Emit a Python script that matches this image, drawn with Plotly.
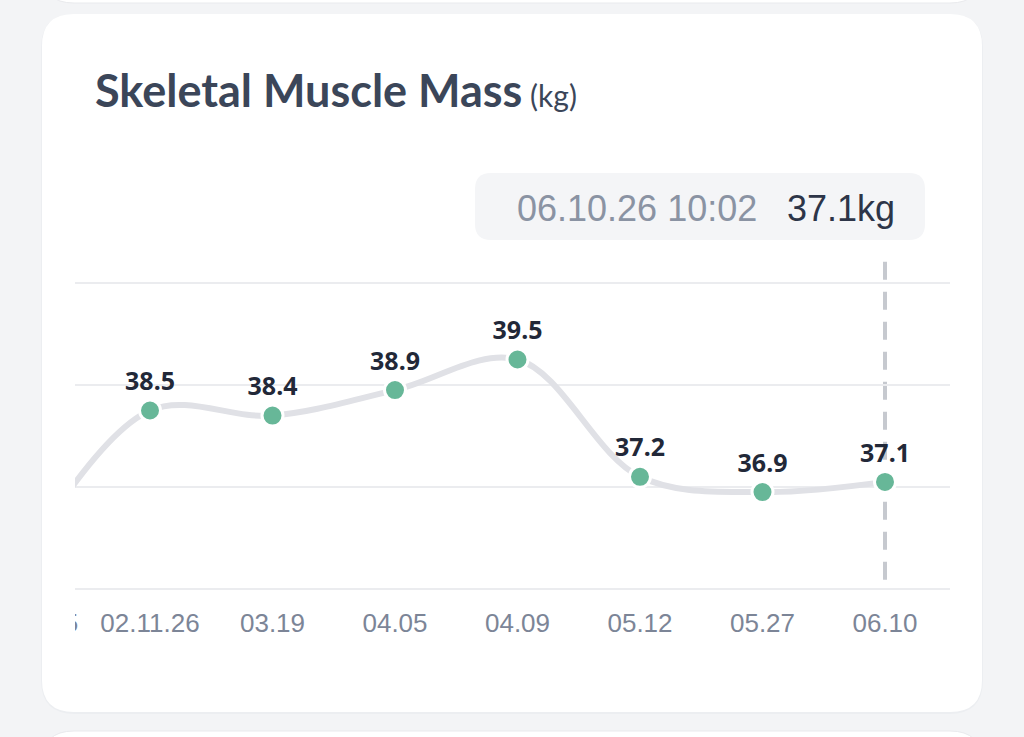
import plotly.graph_objects as go

# ---- data ----
dates = ["12.15.25", "02.11.26", "03.19", "04.05", "04.09", "05.12", "05.27", "06.10"]
values = [35.7, 38.5, 38.4, 38.9, 39.5, 37.2, 36.9, 37.1]
grid_vals = [35, 37, 39, 41]
title_text = "Skeletal Muscle Mass"
unit_text = "(kg)"
tip_time = "06.10.26 10:02"
tip_value = "37.1kg"
selected_idx = 7

W, H = 1024, 737
BG = "#f3f4f6"

def px(x):
    return x / W

def py(y):
    return 1 - y / H

fig = go.Figure()

fig.add_trace(go.Scatter(
    x=list(range(len(dates))),
    y=values,
    mode="lines+markers+text",
    text=[f"{v:.1f}" for v in values],
    textposition="top center",
    textfont=dict(family="Noto Sans", size=25, color="#222838", weight="bold"),
    line=dict(color="#e0e1e6", width=6, shape="spline", smoothing=1.0),
    marker=dict(size=21, color="#67b798", line=dict(color="white", width=3)),
    cliponaxis=False,
    hoverinfo="skip",
    showlegend=False,
))

# pixel mapping of the category axis: idx0 at 27.5px, step 122.5px
x0_idx = (0 - 27.5) / 122.5
x1_idx = (950 - 27.5) / 122.5

# y: 35 at 589px, 41 at 283px (51 px/kg)
y_bot_val = 34.9
y_top_val = 41.7
top_px = 589 - (y_top_val - 35) * 51
bot_px = 589 + (35 - y_bot_val) * 51

shapes = []

def rounded_rect(x0, y0, x1, y1, r):
    X0, X1 = px(x0), px(x1)
    Y0, Y1 = py(y0), py(y1)
    rx, ry = r / W, r / H
    return (f"M {X0+rx},{Y0} L {X1-rx},{Y0} Q {X1},{Y0} {X1},{Y0-ry} "
            f"L {X1},{Y1+ry} Q {X1},{Y1} {X1-rx},{Y1} L {X0+rx},{Y1} "
            f"Q {X0},{Y1} {X0},{Y1+ry} L {X0},{Y0-ry} Q {X0},{Y0} {X0+rx},{Y0} Z")

# neighbouring cards
shapes.append(dict(type="path", xref="paper", yref="paper", layer="below",
                   path=rounded_rect(42, -60, 982, 3, 32),
                   fillcolor="white", line=dict(color="#e9eaed", width=1)))
shapes.append(dict(type="path", xref="paper", yref="paper", layer="below",
                   path=rounded_rect(42, 731, 982, 800, 32),
                   fillcolor="white", line=dict(color="#e9eaed", width=1)))
# main card shadow + card
shapes.append(dict(type="path", xref="paper", yref="paper", layer="below",
                   path=rounded_rect(41, 14, 983, 714, 34),
                   fillcolor="#eceef1", line=dict(width=0)))
shapes.append(dict(type="path", xref="paper", yref="paper", layer="below",
                   path=rounded_rect(42, 14, 982, 712, 32),
                   fillcolor="white", line=dict(width=0)))
# tooltip box
shapes.append(dict(type="path", xref="paper", yref="paper", layer="below",
                   path=rounded_rect(475, 173, 925, 240, 16),
                   fillcolor="#f4f5f7", line=dict(width=0)))
# dashed vertical line at selected point
shapes.append(dict(type="line", xref="x", yref="y",
                   x0=selected_idx, x1=selected_idx,
                   y0=35.18, y1=41.65,
                   line=dict(color="#c6c9cf", width=4, dash="18px,12px"),
                   layer="below"))
# cover left overflow (outside card and inside card margin)
shapes.append(dict(type="rect", xref="paper", yref="paper", layer="above",
                   x0=px(0), x1=px(41), y0=py(660), y1=py(200),
                   fillcolor=BG, line=dict(width=0)))
shapes.append(dict(type="rect", xref="paper", yref="paper", layer="above",
                   x0=px(41), x1=px(42), y0=py(660), y1=py(200),
                   fillcolor="#eceef1", line=dict(width=0)))
shapes.append(dict(type="rect", xref="paper", yref="paper", layer="above",
                   x0=px(42), x1=px(75), y0=py(660), y1=py(200),
                   fillcolor="white", line=dict(width=0)))

annotations = [
    dict(xref="paper", yref="paper", x=px(93), y=py(90), xanchor="left", yanchor="middle",
         text=f"<b>{title_text}</b><span style='font-size:30px;font-weight:normal'> {unit_text}</span>",
         showarrow=False, font=dict(family="Lato", size=45, color="#3b4659")),
    dict(xref="paper", yref="paper", x=px(759), y=py(208), xanchor="right", yanchor="middle",
         text=tip_time, showarrow=False,
         font=dict(family="Liberation Sans", size=36, color="#8a93a3")),
    dict(xref="paper", yref="paper", x=px(785), y=py(208), xanchor="left", yanchor="middle",
         text=tip_value, showarrow=False,
         font=dict(family="Liberation Sans", size=36, color="#2d3548")),
]

fig.update_layout(
    width=W, height=H,
    margin=dict(l=0, r=0, t=0, b=0, autoexpand=False),
    paper_bgcolor=BG,
    plot_bgcolor="rgba(0,0,0,0)",
    shapes=shapes,
    annotations=annotations,
    xaxis=dict(
        domain=[0, px(950)],
        range=[x0_idx, x1_idx],
        tickmode="array",
        tickvals=list(range(len(dates))),
        ticktext=dates,
        showgrid=False, zeroline=False, showline=False,
        ticks="outside", ticklen=6, tickcolor="rgba(0,0,0,0)",
        ticklabeloverflow="allow",
        automargin=False,
        tickfont=dict(family="Liberation Sans", size=26, color="#7c8597"),
        fixedrange=True,
    ),
    yaxis=dict(
        domain=[py(bot_px), py(top_px)],
        range=[y_bot_val, y_top_val],
        tickmode="array",
        tickvals=grid_vals,
        showticklabels=False,
        showgrid=True, gridcolor="#ebecef", gridwidth=2,
        zeroline=False, showline=False,
        automargin=False,
        fixedrange=True,
    ),
)

fig.write_html("out.html", config={"displayModeBar": False},
               post_script="document.body.style.margin='0';document.body.style.overflow='hidden';")
